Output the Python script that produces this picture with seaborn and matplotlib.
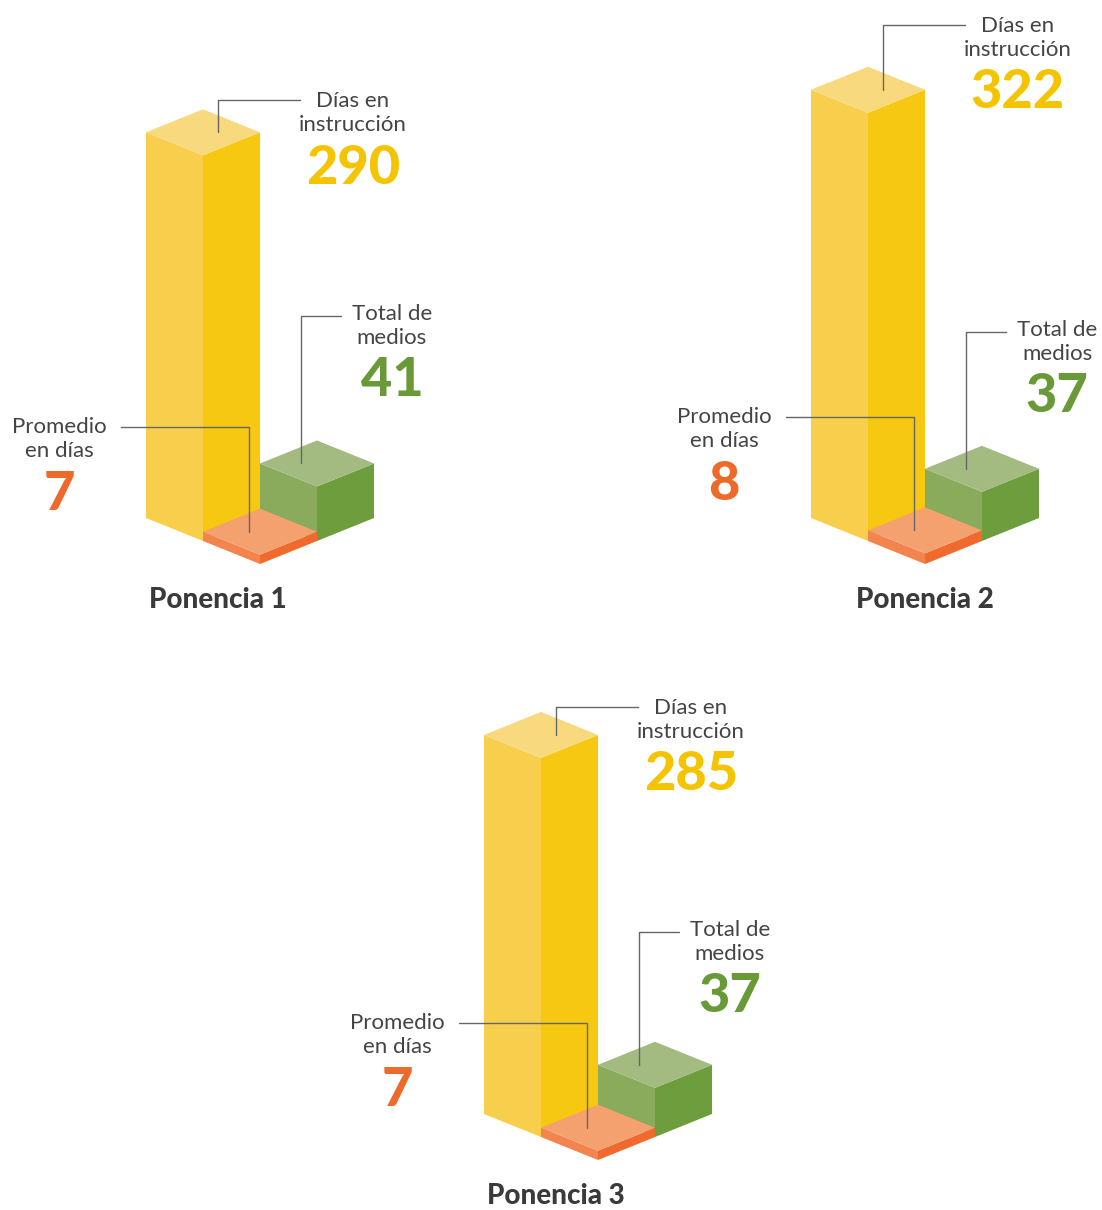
import matplotlib.pyplot as plt
import seaborn as sns

ponencias = ["Ponencia 1", "Ponencia 2", "Ponencia 3"]
dias_instruccion = [290, 322, 285]
total_medios = [41, 37, 37]
promedio_dias = [7, 8, 7]

lbl_dias = "Días en\ninstrucción"
lbl_medios = "Total de\nmedios"
lbl_promedio = "Promedio\nen días"

sns.set_theme(style="white")
plt.rcParams["font.family"] = ["Lato", "DejaVu Sans"]

# colours: (top, left face, right face), value text
yellow = ("#F8D97E", "#F8CF4C", "#F6C811")
green = ("#A3BB81", "#8AAB5B", "#6E9D3D")
orange = ("#F4A06F", "#F3844D", "#EF6A2C")
c_yellow, c_green, c_orange = "#F5C400", "#6A9A38", "#EE6A2A"
c_text = "#444444"
c_line = "#666666"

fig = plt.figure(figsize=(11.02, 12.10), dpi=100)
ax = fig.add_axes([0, 0, 1, 1])
ax.set_xlim(0, 1102)
ax.set_ylim(1210, 0)
ax.axis("off")

HW, HD = 57, 23   # footprint half width / half depth (px)
K = 1.33          # px per unit of value

# layout per panel: front-bottom corner of yellow block, elbows of leader lines, title
anchors = [(203, 541), (868, 541), (541, 1137)]
elbow_y = {"dias": [100, 25, 707], "medios": [316, 332, 932], "prom": [427, 417, 1023]}
title_pos = [(218, 600), (925, 600), (556, 1196)]


def block(fx, fy, value, cols):
    h = value * K
    top, left, right = cols
    ax.fill([fx - HW, fx, fx, fx - HW], [fy - HD, fy, fy - h, fy - HD - h], color=left, lw=0)
    ax.fill([fx, fx + HW, fx + HW, fx], [fy, fy - HD, fy - HD - h, fy - h], color=right, lw=0)
    ax.fill([fx - HW, fx, fx + HW, fx], [fy - HD - h, fy - h, fy - HD - h, fy - 2 * HD - h],
            color=top, lw=0)
    return fy - HD - h  # centre of the top face


def label(x, y, text, value, col):
    ax.text(x, y, text, ha="center", va="center", fontsize=16, color=c_text,
            linespacing=1.2)
    ax.text(x, y + 55, str(value), ha="center", va="center", fontsize=39,
            fontweight="black", color=col)


for i in range(len(ponencias)):
    fx, fy = anchors[i]
    ty = block(fx, fy, dias_instruccion[i], yellow)
    gy = block(fx + 2 * HW, fy, total_medios[i], green)
    oy = block(fx + HW, fy + HD, promedio_dias[i], orange)

    # leader lines
    ey = elbow_y["dias"][i]
    ax.plot([fx + 15, fx + 15, fx + 97], [ty, ey, ey], color=c_line, lw=1)
    label(fx + 150, ey + 13, lbl_dias, dias_instruccion[i], c_yellow)

    ey = elbow_y["medios"][i]
    ax.plot([fx + 98, fx + 98, fx + 138], [gy, ey, ey], color=c_line, lw=1)
    label(fx + 189, ey + 10, lbl_medios, total_medios[i], c_green)

    ey = elbow_y["prom"][i]
    ax.plot([fx + 46, fx + 46, fx - 82], [oy, ey, ey], color=c_line, lw=1)
    label(fx - 144, ey + 12, lbl_promedio, promedio_dias[i], c_orange)

    ax.text(title_pos[i][0], title_pos[i][1], ponencias[i], ha="center", va="center",
            fontsize=20, fontweight="black", color="#3A3A3A")

fig.savefig("out.png", dpi=100, facecolor="white")
